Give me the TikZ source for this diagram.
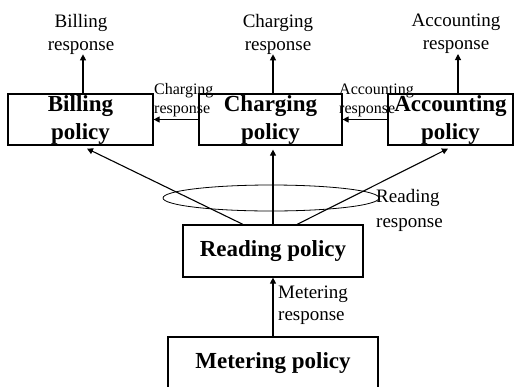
\documentclass[tikz,border=0pt]{standalone}
\usepackage{fontspec}
\setmainfont{Liberation Serif}
\usetikzlibrary{arrows.meta}
\begin{document}
\begin{tikzpicture}[x=1pt,y=-1pt,
  policybox/.style={draw,line width=1.2pt,inner sep=0pt,align=center,
    font=\fontsize{23}{28}\selectfont\bfseries},
  toplabel/.style={inner sep=0pt,align=center,font=\fontsize{19}{23}\selectfont},
  sidelabel/.style={inner sep=0pt,align=left,anchor=west,font=\fontsize{19}{25}\selectfont},
  smalllabel/.style={inner sep=0pt,align=left,anchor=west,font=\fontsize{16}{19}\selectfont},
  arr/.style={line width=1.1pt,-{Triangle[length=6pt,width=6pt]}}]
\useasboundingbox (0,0) rectangle (516,386);

% policy boxes
\node[policybox,minimum width=145pt,minimum height=51pt] (billing) at (80.5,119.5) {Billing\\policy};
\node[policybox,minimum width=143pt,minimum height=51pt] (charging) at (270.5,119.5) {Charging\\policy};
\node[policybox,minimum width=125pt,minimum height=51pt] (accounting) at (450.5,119.5) {Accounting\\policy};
\node[policybox,minimum width=180pt,minimum height=52pt] (reading) at (273,251) {Reading policy};
\node[policybox,minimum width=210pt,minimum height=53pt] (metering) at (273,363.5) {Metering policy};

% response labels
\node[toplabel] (billresp) at (81,34) {Billing\\response};
\node[toplabel] (chargeresp) at (278,34) {Charging\\response};
\node[toplabel] (acctresp) at (456,34) {Accounting\\response};
\node[smalllabel] (chargeside) at (154,100) {Charging\\response};
\node[smalllabel] (acctside) at (339,100) {Accounting\\response};
\node[sidelabel] (readresp) at (376,210) {Reading\\response};
\node[sidelabel,font=\fontsize{19}{22}\selectfont] (meterresp) at (278,305) {Metering\\response};

% reading response ellipse
\draw[line width=0.8pt] (271,198) ellipse [x radius=108pt, y radius=13pt];

% upward responses
\draw[arr] ([xshift=2.5pt]billing.north) -- ([xshift=2.5pt]billing.north |- billresp.south);
\draw[arr] ([xshift=2.5pt]charging.north) -- ([xshift=2.5pt]charging.north |- chargeresp.south);
\draw[arr] ([xshift=7.5pt]accounting.north) -- ([xshift=7.5pt]accounting.north |- acctresp.south);

% responses passed along the row
\draw[arr] (charging.west) -- (billing.east);
\draw[arr] (accounting.west) -- (charging.east);

% reading policy feeding the row
\draw[arr] ([xshift=-30pt]reading.north) -- ([xshift=6.5pt,yshift=-3pt]billing.south);
\draw[arr] (reading.north) -- ([yshift=-4pt]reading.north |- charging.south);
\draw[arr] ([xshift=24pt]reading.north) -- ([xshift=-2.5pt,yshift=-3pt]accounting.south);

% metering into reading
\draw[arr] (metering.north) -- (reading.south);
\end{tikzpicture}
\end{document}
